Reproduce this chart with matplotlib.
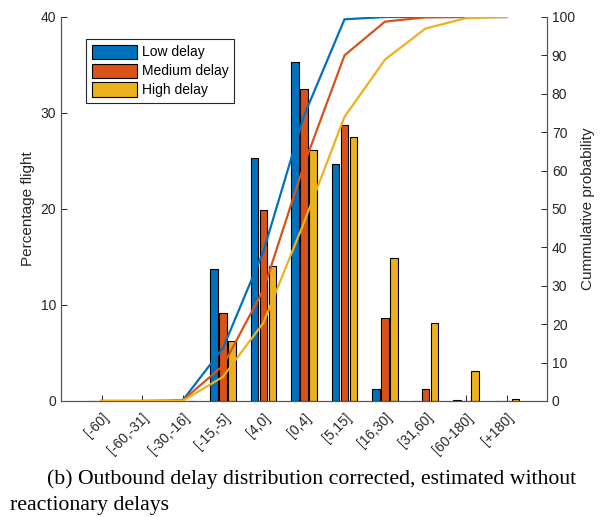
import numpy as np
import matplotlib
matplotlib.use('Agg')
import matplotlib.pyplot as plt

plt.rcParams['font.family'] = ['Liberation Sans', 'DejaVu Sans']

categories = ['[-60]', '[-60,-31]', '[-30,-16]', '[-15,-5]', '[4,0]', '[0,4]',
              '[5,15]', '[16,30]', '[31,60]', '[60-180]', '[+180]']
series_names = ['Low delay', 'Medium delay', 'High delay']

low_pct = [0.05, 0.0, 0.1, 13.7, 25.3, 35.3, 24.7, 1.3, 0.05, 0.15, 0.0]
medium_pct = [0.0, 0.0, 0.05, 9.2, 19.9, 32.5, 28.8, 8.6, 1.2, 0.05, 0.05]
high_pct = [0.0, 0.0, 0.0, 6.3, 14.1, 26.1, 27.5, 14.9, 8.1, 3.1, 0.25]

low_cum = [0, 0, 0.1, 13.8, 39.0, 74.3, 99.4, 100, 100, 100, 100]
medium_cum = [0, 0, 0.1, 9.2, 29.0, 61.5, 90.0, 98.8, 99.9, 100, 100]
high_cum = [0, 0, 0, 6.3, 20.4, 46.5, 74.0, 88.9, 97.0, 99.7, 100]

colors = ['#0072BD', '#D95319', '#EDB120']
axis_grey = '#262626'

fig = plt.figure(figsize=(6.08, 5.17), dpi=100)
ax = fig.add_axes([61 / 608, 1 - 401 / 517, 486 / 608, 384 / 517])
x = np.arange(1, len(categories) + 1)

bar_step = 0.222
bar_w = 0.19
for i, vals in enumerate([low_pct, medium_pct, high_pct]):
    ax.bar(x + (i - 1) * bar_step, vals, width=bar_w, color=colors[i],
           edgecolor='black', linewidth=0.8, label=series_names[i], zorder=2)

ax.set_xlim(0, 12)
ax.set_ylim(0, 40)
ax.set_yticks([0, 10, 20, 30, 40])
ax.set_xticks(x)
ax.set_xticklabels(categories, rotation=45, ha='right', va='top',
                   rotation_mode='anchor')
ax.set_ylabel('Percentage flight', fontsize=11, color=axis_grey)
ax.tick_params(direction='in', colors=axis_grey, labelsize=10, length=4,
               width=0.7)
ax.tick_params(axis='x', pad=7)
ax.spines['top'].set_visible(False)
for s in ['left', 'bottom', 'right']:
    ax.spines[s].set_color('#555555')
    ax.spines[s].set_linewidth(0.8)

leg = ax.legend(loc='upper left', bbox_to_anchor=(25 / 486, 1 - 22 / 384),
                borderaxespad=0, fontsize=10, handlelength=3.3,
                handleheight=1.2, handletextpad=0.3, labelspacing=0.3,
                borderpad=0.4, fancybox=False, framealpha=1,
                edgecolor='#262626')
leg.get_frame().set_linewidth(0.8)

ax2 = ax.twinx()
for i, vals in enumerate([low_cum, medium_cum, high_cum]):
    ax2.plot(x, vals, color=colors[i], linewidth=1.6, zorder=3)
ax2.set_ylim(0, 100)
ax2.set_yticks(np.arange(0, 101, 10))
ax2.set_ylabel('Cummulative probability', fontsize=11, color=axis_grey)
ax2.tick_params(direction='in', colors=axis_grey, labelsize=10, length=4,
                width=0.7)
ax2.spines['top'].set_visible(False)
for s in ['left', 'bottom', 'right']:
    ax2.spines[s].set_color('#555555')
    ax2.spines[s].set_linewidth(0.8)

fig.text(47 / 608, 1 - 484 / 517,
         '(b) Outbound delay distribution corrected, estimated without',
         fontsize=15.7, family='Liberation Serif', va='baseline')
fig.text(10 / 608, 1 - 510 / 517, 'reactionary delays',
         fontsize=15.7, family='Liberation Serif', va='baseline')

fig.savefig('out.png', dpi=100)
